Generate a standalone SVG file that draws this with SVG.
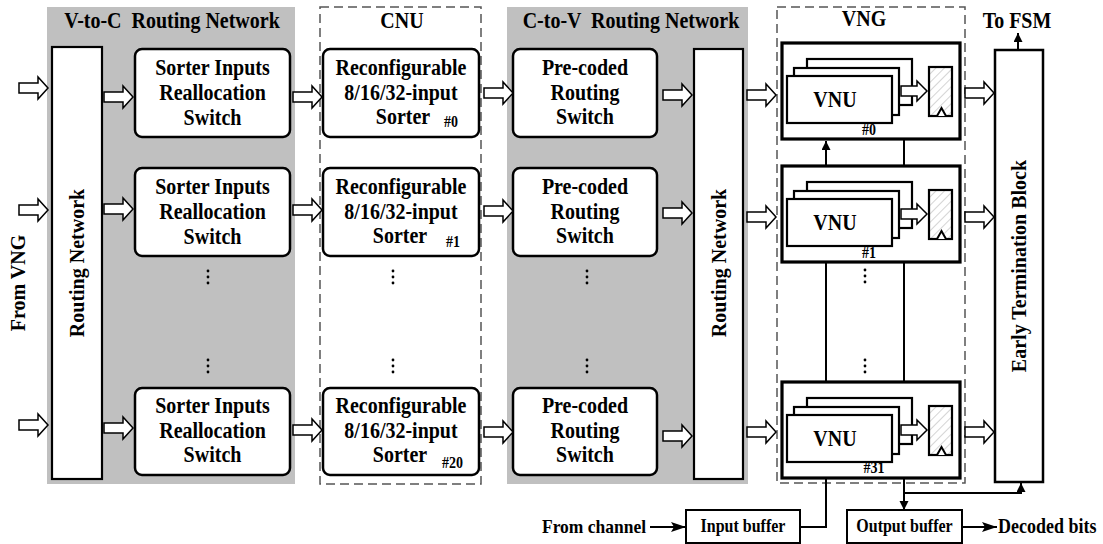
<svg xmlns="http://www.w3.org/2000/svg" xmlns:xlink="http://www.w3.org/1999/xlink" width="1103" height="544" viewBox="0 0 1103 544">
<style>
.t{font-family:"Liberation Serif","Times New Roman",serif;font-weight:bold;font-size:20px;text-anchor:middle;fill:#000}
.s{font-family:"Liberation Serif","Times New Roman",serif;font-weight:bold;font-size:14px;fill:#000}
.m{font-family:"Liberation Serif","Times New Roman",serif;font-weight:bold;font-size:16px;fill:#000}
.panel{fill:#c0c0c0;stroke:none}
.dash{fill:none;stroke:#555;stroke-width:1.5;stroke-dasharray:9 5}
.rbox{fill:#fff;stroke:#000;stroke-width:2.5}
.box{fill:#fff;stroke:#000;stroke-width:2.2}
.blk{fill:#fff;stroke:#000;stroke-width:3.2}
.vnu{fill:#fff;stroke:#000;stroke-width:2.2}
.reg{fill:url(#hatch);stroke:#000;stroke-width:2.2}
.ha{fill:#fff;stroke:#000;stroke-width:1.5}
.ln{fill:none;stroke:#000;stroke-width:2}
.dot{fill:#000}
</style>
<defs>
<pattern id="hatch" patternUnits="userSpaceOnUse" width="6" height="6" patternTransform="rotate(45)">
<rect width="6" height="6" fill="#fff"/>
<line x1="0" y1="0" x2="0" y2="6" stroke="#aaa" stroke-width="1"/>
</pattern>
<path id="ha" class="ha" d="M0,-5 H19 V-11 L29,0 L19,11 V5 H0 Z"/>
<path id="ha2" class="ha" d="M0,-5 H16 V-10 L26,0 L16,10 V5 H0 Z"/>
<marker id="ah" markerUnits="userSpaceOnUse" markerWidth="10" markerHeight="10" refX="9" refY="4.5" orient="auto">
<path d="M0,0 L9,4.5 L0,9 Z" fill="#000"/>
</marker>
<marker id="ahb" markerUnits="userSpaceOnUse" markerWidth="16" markerHeight="12" refX="15" refY="5" orient="auto">
<path d="M0,0 L15,5 L0,10 L3,5 Z" fill="#000"/>
</marker>
<g id="vngblk">
<rect class="blk" x="0" y="0" width="178" height="96"/>
<rect class="vnu" x="25" y="16" width="105" height="46"/>
<rect class="vnu" x="12" y="25" width="105" height="47"/>
<rect class="vnu" x="5" y="33" width="105" height="47"/>
<text class="t" x="53" y="64" transform="matrix(1,0,0,1.12,0,-7.68)">VNU</text>
<use href="#ha2" x="119" y="48"/>
<rect class="reg" x="147" y="24" width="23" height="49"/>
<path d="M155,73 L159.5,65 L164,73" fill="#fff" stroke="#000" stroke-width="2"/>
</g>
<g id="dots3">
<circle class="dot" cx="0" cy="0" r="1.4"/>
<circle class="dot" cx="0" cy="6" r="1.4"/>
<circle class="dot" cx="0" cy="12" r="1.4"/>
</g>
</defs>

<g id="panels">
<rect class="panel" x="47" y="7" width="248" height="477"/>
<rect class="panel" x="507" y="7" width="241" height="477"/>
<rect class="dash" x="320" y="7" width="161" height="477"/>
<rect class="dash" x="777" y="7" width="188" height="476"/>
</g>

<g id="headers">
<text class="t" x="172" y="28" xml:space="preserve" transform="matrix(1,0,0,1.12,0,-3.36)">V-to-C  Routing Network</text>
<text class="t" x="402" y="28" transform="matrix(1,0,0,1.12,0,-3.36)">CNU</text>
<text class="t" x="631" y="28" xml:space="preserve" transform="matrix(1,0,0,1.12,0,-3.36)">C-to-V  Routing Network</text>
<text class="t" x="864" y="26" transform="matrix(1,0,0,1.12,0,-3.12)">VNG</text>
<text class="t" x="1017" y="28" transform="matrix(1,0,0,1.12,0,-3.36)">To FSM</text>
<text class="t" transform="translate(25,283) rotate(-90)">From VNG</text>
</g>

<g id="rn1">
<rect class="box" x="52" y="47" width="50" height="432"/>
<text class="t" transform="translate(84,263) rotate(-90)">Routing Network</text>
</g>

<g id="sias0">
<rect class="rbox" x="135" y="49" width="155" height="88" rx="7"/>
<text class="t" x="212.5" y="75" transform="matrix(1,0,0,1.12,0,-9)">Sorter Inputs</text>
<text class="t" x="212.5" y="100" transform="matrix(1,0,0,1.12,0,-12)">Reallocation</text>
<text class="t" x="212.5" y="125" transform="matrix(1,0,0,1.12,0,-15)">Switch</text>
</g>
<g id="sias1">
<rect class="rbox" x="135" y="168" width="155" height="88" rx="7"/>
<text class="t" x="212.5" y="194" transform="matrix(1,0,0,1.12,0,-23.28)">Sorter Inputs</text>
<text class="t" x="212.5" y="219" transform="matrix(1,0,0,1.12,0,-26.28)">Reallocation</text>
<text class="t" x="212.5" y="244" transform="matrix(1,0,0,1.12,0,-29.28)">Switch</text>
</g>
<g id="sias20">
<rect class="rbox" x="135" y="388" width="155" height="87" rx="7"/>
<text class="t" x="212.5" y="413" transform="matrix(1,0,0,1.12,0,-49.56)">Sorter Inputs</text>
<text class="t" x="212.5" y="438" transform="matrix(1,0,0,1.12,0,-52.56)">Reallocation</text>
<text class="t" x="212.5" y="462" transform="matrix(1,0,0,1.12,0,-55.44)">Switch</text>
</g>

<g id="cnu0">
<rect class="rbox" x="323" y="49" width="156" height="88" rx="7"/>
<text class="t" x="401" y="75" transform="matrix(1,0,0,1.12,0,-9)">Reconfigurable</text>
<text class="t" x="401" y="100" transform="matrix(1,0,0,1.12,0,-12)">8/16/32-input</text>
<text class="t" x="403" y="124" transform="matrix(1,0,0,1.12,0,-14.88)">Sorter</text>
<text class="s" x="444" y="127" transform="matrix(1,0,0,1.12,0,-15.24)">#0</text>
</g>
<g id="cnu1">
<rect class="rbox" x="323" y="168" width="156" height="88" rx="7"/>
<text class="t" x="401" y="194" transform="matrix(1,0,0,1.12,0,-23.28)">Reconfigurable</text>
<text class="t" x="401" y="219" transform="matrix(1,0,0,1.12,0,-26.28)">8/16/32-input</text>
<text class="t" x="400" y="243" transform="matrix(1,0,0,1.12,0,-29.16)">Sorter</text>
<text class="s" x="446" y="247" transform="matrix(1,0,0,1.12,0,-29.64)">#1</text>
</g>
<g id="cnu20">
<rect class="rbox" x="323" y="388" width="156" height="87" rx="7"/>
<text class="t" x="401" y="413" transform="matrix(1,0,0,1.12,0,-49.56)">Reconfigurable</text>
<text class="t" x="401" y="438" transform="matrix(1,0,0,1.12,0,-52.56)">8/16/32-input</text>
<text class="t" x="400" y="462" transform="matrix(1,0,0,1.12,0,-55.44)">Sorter</text>
<text class="s" x="442" y="468" transform="matrix(1,0,0,1.12,0,-56.16)">#20</text>
</g>

<g id="prs0">
<rect class="rbox" x="513" y="49" width="144" height="88" rx="7"/>
<text class="t" x="585" y="75" transform="matrix(1,0,0,1.12,0,-9)">Pre-coded</text>
<text class="t" x="585" y="100" transform="matrix(1,0,0,1.12,0,-12)">Routing</text>
<text class="t" x="585" y="124" transform="matrix(1,0,0,1.12,0,-14.88)">Switch</text>
</g>
<g id="prs1">
<rect class="rbox" x="513" y="168" width="144" height="88" rx="7"/>
<text class="t" x="585" y="194" transform="matrix(1,0,0,1.12,0,-23.28)">Pre-coded</text>
<text class="t" x="585" y="219" transform="matrix(1,0,0,1.12,0,-26.28)">Routing</text>
<text class="t" x="585" y="243" transform="matrix(1,0,0,1.12,0,-29.16)">Switch</text>
</g>
<g id="prs20">
<rect class="rbox" x="513" y="388" width="144" height="87" rx="7"/>
<text class="t" x="585" y="413" transform="matrix(1,0,0,1.12,0,-49.56)">Pre-coded</text>
<text class="t" x="585" y="438" transform="matrix(1,0,0,1.12,0,-52.56)">Routing</text>
<text class="t" x="585" y="462" transform="matrix(1,0,0,1.12,0,-55.44)">Switch</text>
</g>

<g id="rn2">
<rect class="box" x="694" y="49" width="49" height="430"/>
<text class="t" transform="translate(725.5,263) rotate(-90)">Routing Network</text>
</g>

<g id="vng0">
<use href="#vngblk" x="782" y="43"/>
<text class="s" x="869" y="135" text-anchor="middle" transform="matrix(1,0,0,1.12,0,-16.2)">#0</text>
</g>
<g id="vng1">
<use href="#vngblk" x="782" y="166"/>
<text class="s" x="869" y="258" text-anchor="middle" transform="matrix(1,0,0,1.12,0,-30.96)">#1</text>
</g>
<g id="vng31">
<use href="#vngblk" x="782" y="382"/>
<text class="s" x="874" y="473" text-anchor="middle" transform="matrix(1,0,0,1.12,0,-56.76)">#31</text>
</g>

<g id="etb">
<rect class="box" x="995" y="50" width="48" height="432" style="stroke-width:2.5"/>
<text class="t" transform="translate(1026,266) rotate(-90)">Early Termination Block</text>
</g>

<g id="inbuf">
<rect class="box" x="686" y="510" width="114" height="33" style="stroke-width:2"/>
<text class="m" x="743" y="532" text-anchor="middle" transform="matrix(1,0,0,1.12,0,-63.84)">Input buffer</text>
</g>
<g id="outbuf">
<rect class="box" x="847" y="510" width="115" height="33" style="stroke-width:2"/>
<text class="m" x="904.5" y="532" text-anchor="middle" transform="matrix(1,0,0,1.12,0,-63.84)">Output buffer</text>
</g>
<g id="io-labels">
<text class="t" x="542" y="533" style="text-anchor:start;font-size:17.5px" transform="matrix(1,0,0,1.12,0,-63.96)">From channel</text>
<text class="t" x="998" y="533" style="text-anchor:start;font-size:18px" transform="matrix(1,0,0,1.12,0,-63.96)">Decoded bits</text>
</g>

<g id="dots">
<use href="#dots3" x="208" y="271"/>
<use href="#dots3" x="208" y="360"/>
<use href="#dots3" x="393" y="271"/>
<use href="#dots3" x="393" y="360"/>
<use href="#dots3" x="587" y="271"/>
<use href="#dots3" x="587" y="360"/>
<use href="#dots3" x="865" y="270"/>
<use href="#dots3" x="865" y="360"/>
</g>

<g id="connectors">
<use href="#ha" x="19" y="88"/>
<use href="#ha" x="104" y="97"/>
<use href="#ha" x="293" y="97"/>
<use href="#ha" x="484" y="93"/>
<use href="#ha" x="663" y="95"/>
<use href="#ha" x="747" y="95"/>
<use href="#ha" x="965" y="93"/>

<use href="#ha" x="19" y="210"/>
<use href="#ha" x="104" y="209"/>
<use href="#ha" x="293" y="210"/>
<use href="#ha" x="484" y="211"/>
<use href="#ha" x="663" y="213"/>
<use href="#ha" x="747" y="217"/>
<use href="#ha" x="965" y="217"/>

<use href="#ha" x="19" y="425"/>
<use href="#ha" x="104" y="428"/>
<use href="#ha" x="293" y="430"/>
<use href="#ha" x="484" y="432"/>
<use href="#ha" x="663" y="436"/>
<use href="#ha" x="747" y="432"/>
<use href="#ha" x="965" y="432"/>

<line class="ln" x1="826" y1="166" x2="826" y2="141" marker-end="url(#ah)"/>
<line class="ln" x1="904" y1="139" x2="904" y2="166"/>
<line class="ln" x1="826" y1="262" x2="826" y2="382"/>
<line class="ln" x1="904" y1="262" x2="904" y2="382"/>
<polyline class="ln" points="800,527 826,527 826,478"/>
<line class="ln" x1="904" y1="478" x2="904" y2="510" marker-end="url(#ah)"/>
<polyline class="ln" points="904,493 1021,493 1021,483" marker-end="url(#ah)"/>
<line class="ln" x1="1018" y1="50" x2="1018" y2="33" marker-end="url(#ah)"/>
<line class="ln" x1="650" y1="527" x2="686" y2="527" marker-end="url(#ahb)"/>
<line class="ln" x1="962" y1="527" x2="997" y2="527" marker-end="url(#ahb)"/>
</g>
</svg>
